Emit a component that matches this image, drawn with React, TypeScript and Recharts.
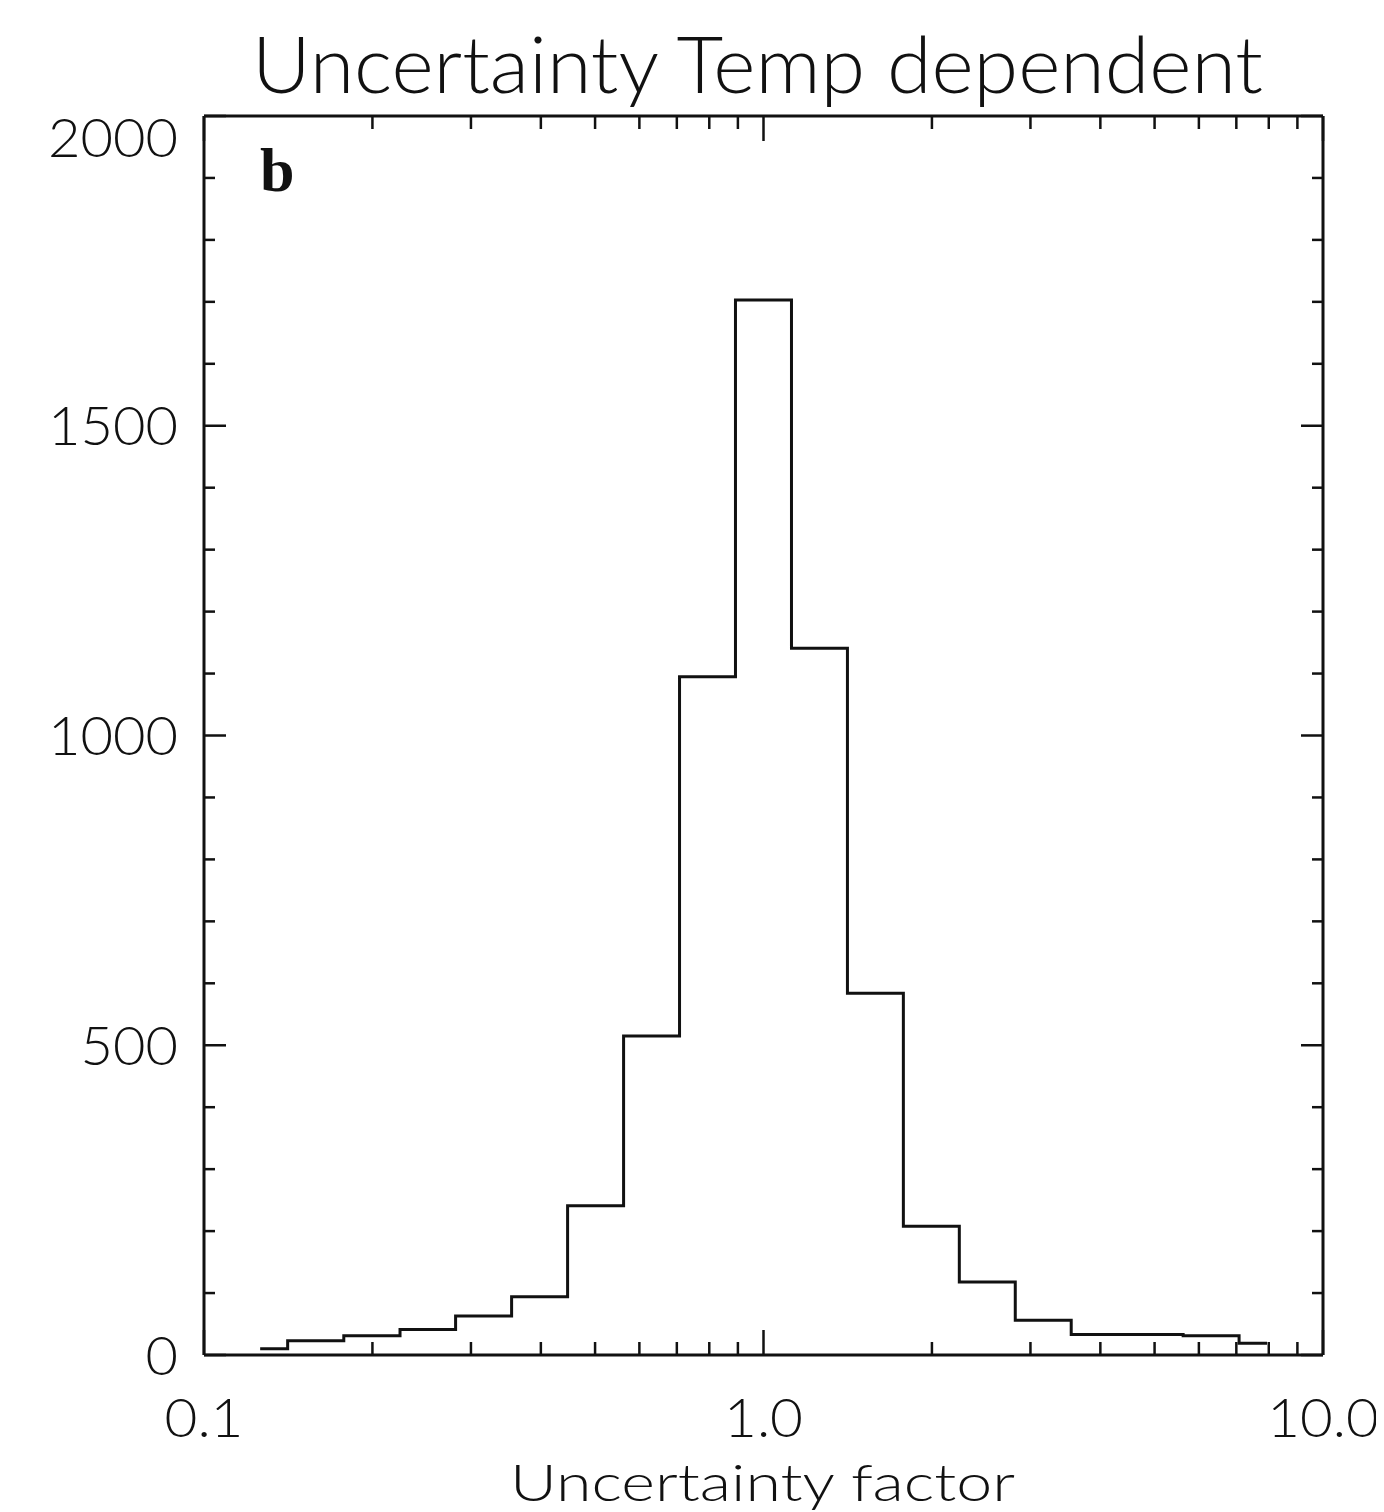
import React from 'react';
import { ComposedChart, Line, XAxis, YAxis, Customized } from 'recharts';

// bin centres (log spaced, 0.1 decade) and counts
const factors = [0.126, 0.158, 0.2, 0.251, 0.316, 0.398, 0.501, 0.631, 0.794, 1.0, 1.259, 1.585, 1.995, 2.512, 3.162, 3.981, 5.012, 6.31, 7.943];
const counts = [10, 23, 31, 41, 63, 94, 241, 515, 1095, 1703, 1141, 584, 208, 118, 56, 33, 33, 31, 19];

const xTicks = [0.1, 0.2, 0.3, 0.4, 0.5, 0.6, 0.7, 0.8, 0.9, 1, 2, 3, 4, 5, 6, 7, 8, 9, 10];
const xMajor = [0.1, 1, 10];
const xLabels: Record<string, string> = { '0.1': '0.1', '1': '1.0', '10': '10.0' };

const yTicks = Array.from({ length: 21 }, (_, i) => i * 100);
const yMajor = [0, 500, 1000, 1500, 2000];

const data = factors.map((f, i) => ({ factor: f, count: counts[i] }));

const INK = '#111';
const FONT = "Lato, 'DejaVu Sans', sans-serif";

// rough width of the plotter-style digits
const labelWidth = (s: string) => s.replace('.', '').length * 32.5 + (s.includes('.') ? 14 : 0);

const XTick = ({ x, y, payload, side }: any) => {
  const v = payload.value;
  const major = xMajor.includes(v);
  const len = major ? 25 : 13;
  const dir = side === 'bottom' ? -1 : 1;
  const s = xLabels[String(v)];
  return (
    <g>
      <line x1={x} x2={x} y1={y} y2={y + dir * len} stroke={INK} strokeWidth={2.5} />
      {side === 'bottom' && major && (
        <text x={x} y={y + 82} textAnchor="middle" textLength={labelWidth(s)} lengthAdjust="spacingAndGlyphs"
          fontFamily={FONT} fontWeight={300} fontSize={54} fill={INK}>
          {s}
        </text>
      )}
    </g>
  );
};

const YTick = ({ x, y, payload, side }: any) => {
  const v = payload.value;
  const major = yMajor.includes(v);
  const len = major ? 22 : 11;
  const dir = side === 'left' ? 1 : -1;
  const s = String(v);
  return (
    <g>
      <line x1={x} x2={x + dir * len} y1={y} y2={y} stroke={INK} strokeWidth={2.5} />
      {side === 'left' && major && (
        <text x={x - 26} y={y + (v === 2000 ? 41 : 19.5)} textAnchor="end" textLength={labelWidth(s)} lengthAdjust="spacingAndGlyphs"
          fontFamily={FONT} fontWeight={300} fontSize={54} fill={INK}>
          {s}
        </text>
      )}
    </g>
  );
};

const Texts = () => (
  <g>
    <text x={244} y={85} textLength={1011} lengthAdjust="spacingAndGlyphs" fontFamily={FONT} fontWeight={300} fontSize={78} fill={INK}>
      Uncertainty Temp dependent
    </text>
    <text x={502} y={1493} textLength={505} lengthAdjust="spacingAndGlyphs" fontFamily={FONT} fontWeight={300} fontSize={52} fill={INK}>
      Uncertainty factor
    </text>
    <text x={252} y={183} fontFamily="'Liberation Serif', serif" fontWeight="bold" fontSize={62} fill={INK}>
      b
    </text>
  </g>
);

export default function App() {
  return (
    <div style={{ width: 1376, height: 1504, background: '#fff' }}>
      <ComposedChart width={1376} height={1504} data={data} margin={{ top: 98, right: 51, bottom: 57, left: 46 }}>
        <XAxis
          xAxisId="bottom"
          dataKey="factor"
          type="number"
          scale="log"
          domain={[0.1, 10]}
          allowDataOverflow
          ticks={xTicks}
          interval={0}
          height={100}
          tickSize={0}
          tickMargin={0}
          axisLine={{ stroke: INK, strokeWidth: 3 }}
          tickLine={false}
          tick={<XTick side="bottom" />}
        />
        <XAxis
          xAxisId="top"
          orientation="top"
          dataKey="factor"
          type="number"
          scale="log"
          domain={[0.1, 10]}
          allowDataOverflow
          ticks={xTicks}
          interval={0}
          height={10}
          tickSize={0}
          tickMargin={0}
          axisLine={{ stroke: INK, strokeWidth: 3 }}
          tickLine={false}
          tick={<XTick side="top" />}
        />
        <YAxis
          yAxisId="left"
          type="number"
          domain={[0, 2000]}
          ticks={yTicks}
          interval={0}
          width={150}
          tickSize={0}
          tickMargin={0}
          axisLine={{ stroke: INK, strokeWidth: 3 }}
          tickLine={false}
          tick={<YTick side="left" />}
        />
        <YAxis
          yAxisId="right"
          orientation="right"
          type="number"
          domain={[0, 2000]}
          ticks={yTicks}
          interval={0}
          width={10}
          tickSize={0}
          tickMargin={0}
          axisLine={{ stroke: INK, strokeWidth: 3 }}
          tickLine={false}
          tick={<YTick side="right" />}
        />
        <Line
          xAxisId="top"
          yAxisId="right"
          type="step"
          dataKey="count"
          stroke="none"
          dot={false}
          isAnimationActive={false}
        />
        <Line
          xAxisId="bottom"
          yAxisId="left"
          type="step"
          dataKey="count"
          stroke={INK}
          strokeWidth={3}
          dot={false}
          isAnimationActive={false}
        />
        <Customized component={Texts} />
      </ComposedChart>
    </div>
  );
}
